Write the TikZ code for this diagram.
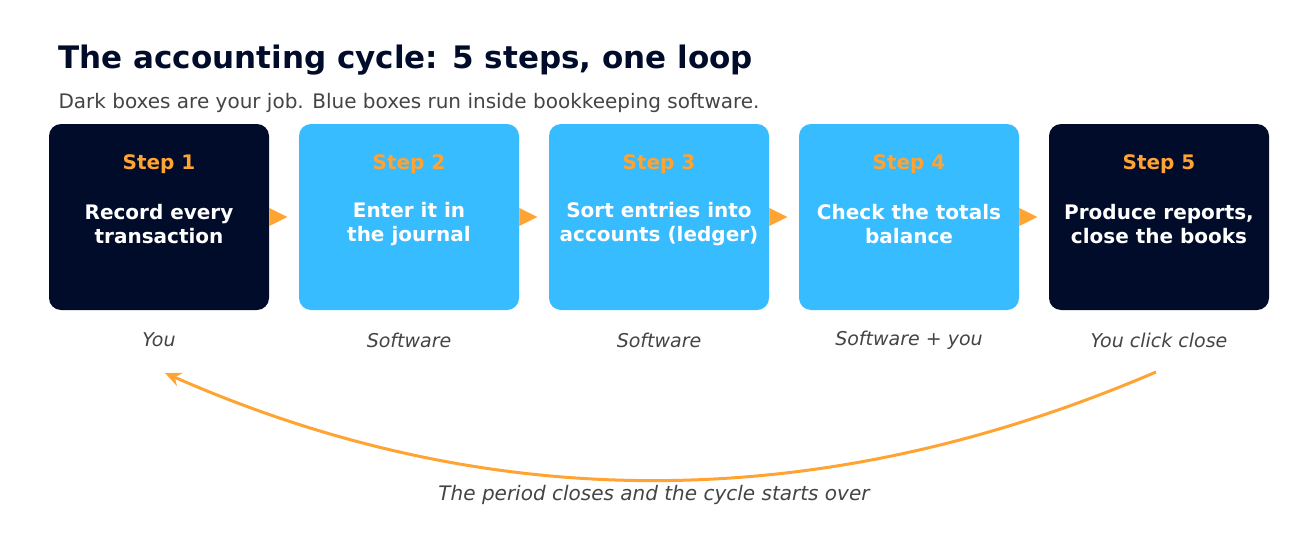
\documentclass[tikz,border=0pt]{standalone}
\usepackage{fontspec}
\setmainfont{DejaVu Sans}
\usetikzlibrary{arrows.meta,positioning}

\definecolor{navy}{HTML}{000C2A}
\definecolor{sky}{HTML}{36BCFF}
\definecolor{amber}{HTML}{FFA333}
\definecolor{ink}{HTML}{444444}

\tikzset{
  box/.style={rounded corners=12pt, minimum width=220pt, minimum height=186pt, inner sep=0pt},
  mine/.style={box, fill=navy},
  soft/.style={box, fill=sky},
  steplbl/.style={text=amber, font=\fontsize{20}{24}\selectfont\bfseries},
  body/.style={text=white, font=\fontsize{20}{24}\selectfont\bfseries, align=center},
  who/.style={text=ink, font=\fontsize{19}{23}\selectfont\itshape},
  flow/.style={amber, -{Triangle[length=18pt,width=18pt]}, line width=0.1pt},
}

\begin{document}
\begin{tikzpicture}[x=1pt,y=-1pt]
    \useasboundingbox (0,0) rectangle (1308,538);

    % Title and subtitle
    \node[anchor=west, text=navy, font=\fontsize{31}{36}\selectfont\bfseries] (title) at (55,60) {The accounting cycle: 5 steps, one loop};
    \node[anchor=west, text=ink, font=\fontsize{20}{24}\selectfont] (sub) at (55,103) {Dark boxes are your job. Blue boxes run inside bookkeeping software.};

    % Step boxes
    \node[mine] (s1) at (159,217) {};
    \node[soft] (s2) at (409,217) {};
    \node[soft] (s3) at (659,217) {};
    \node[soft] (s4) at (909,217) {};
    \node[mine] (s5) at (1159,217) {};

    % Box texts
    \foreach \n/\t/\w in {1/{Record every\\transaction}/You,
                          2/{Enter it in\\the journal}/Software,
                          3/{Sort entries into\\accounts (ledger)}/Software,
                          4/{Check the totals\\balance}/{Software + you},
                          5/{Produce reports,\\close the books}/{You click close}} {
        \node[steplbl] (h\n) at ([yshift=-40pt]s\n.north) {Step \n};
        \node[body] (b\n) at ([yshift=-7pt]s\n.center) {\t};
        \node[who] (w\n) at ([yshift=-30pt]s\n.south) {\w};
    }

    % Arrows between steps
    \foreach \a/\b in {1/2,2/3,3/4,4/5} {
        \draw[flow] (s\a.east) -- ++(18,0);
    }

    % Loop back
    \coordinate (loopA) at (1156,372);
    \coordinate (loopB) at (165,373);
    \draw[amber, line width=3pt, -{Stealth[length=16pt,width=14pt]}]
        (loopA) .. controls (820,516) and (490,516) .. (loopB);
    \node[who, font=\fontsize{20}{24}\selectfont\itshape] (note) at (654,495) {The period closes and the cycle starts over};
\end{tikzpicture}
\end{document}
